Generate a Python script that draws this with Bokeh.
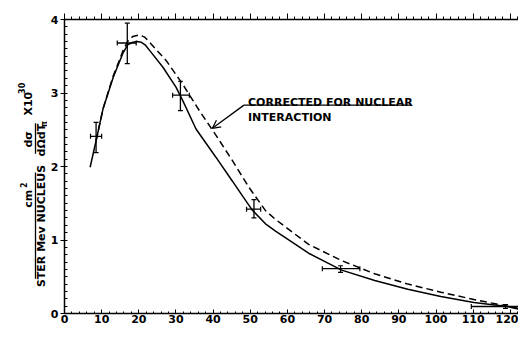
from math import pi
from bokeh.plotting import figure
from bokeh.models import (Range1d, LinearAxis, SingleIntervalTicker, Whisker, TeeHead,
                          ColumnDataSource, Label, Arrow, OpenHead, CustomJSTickFormatter)
from bokeh.layouts import row
from bokeh.core.properties import value
from bokeh.embed import file_html
from bokeh.resources import INLINE

# ---- data ----
pt_x = [8.5, 16.9, 31.2, 51.0, 74.3, 118.7]
pt_y = [2.41, 3.68, 2.97, 1.42, 0.61, 0.095]
y_lo = [2.19, 3.40, 2.76, 1.30, 0.56, 0.07]
y_hi = [2.60, 3.95, 3.16, 1.55, 0.65, 0.12]
x_lo = [7.0, 14.2, 29.1, 49.0, 69.4, 109.5]
x_hi = [10.0, 19.3, 33.6, 52.8, 79.5, 128.0]

solid_x = [6.9, 8.5, 10.4, 13.1, 15.8, 17.1, 18.4, 19.5, 20.7, 21.8, 22.9, 26.5, 30.0, 31.8,
           35.4, 40.7, 45.2, 47.9, 50.5, 54.1, 56.8, 65.7, 74.6, 83.5, 92.4, 101.3, 110.2,
           119.2, 122.2]
solid_y = [1.99, 2.35, 2.79, 3.21, 3.55, 3.66, 3.69, 3.70, 3.69, 3.65, 3.58, 3.35, 3.08, 2.90,
           2.51, 2.13, 1.80, 1.60, 1.41, 1.22, 1.12, 0.82, 0.59, 0.45, 0.33, 0.23, 0.15,
           0.095, 0.06]

dash_x = [8.5, 10.4, 13.1, 15.8, 17.1, 18.4, 20.2, 21.6, 22.9, 27.4, 31.8, 36.3, 40.7, 45.2,
          49.6, 54.1, 56.8, 65.7, 74.6, 83.5, 92.4, 101.3, 110.2, 119.2, 122.2]
dash_y = [2.35, 2.79, 3.23, 3.58, 3.71, 3.77, 3.79, 3.76, 3.69, 3.44, 3.12, 2.76, 2.43, 2.08,
          1.72, 1.40, 1.28, 0.94, 0.72, 0.54, 0.40, 0.29, 0.19, 0.10, 0.07]

x_ticks_interval = 10
y_ticks_interval = 1
note_lines = ["CORRECTED FOR NUCLEAR", "INTERACTION"]

FONT = value("DejaVu Sans")

# ---- y label figure (page pixel coordinates) ----
lf = figure(width=47, height=346, x_range=Range1d(0, 47), y_range=Range1d(346, 0),
            output_backend="svg", toolbar_location=None, min_border=0,
            x_axis_location=None, y_axis_location=None)
lf.grid.visible = False
lf.outline_line_color = None

lf.text(x=[27.5, 41, 28, 27.5, 40.5], y=[141, 142, 99, 211, 243],
        text=["dσ", "dΩdT", "X10", "cm", "STER Mev NUCLEUS"],
        angle=pi / 2, text_font=FONT, text_font_size="11px", text_font_style="bold",
        text_align="center", text_baseline="middle", text_color="black")
lf.text(x=[43.5, 21, 22.5], y=[123, 81, 195], text=["π", "30", "2"],
        angle=pi / 2, text_font=FONT, text_font_size="8px", text_font_style="bold",
        text_align="center", text_baseline="middle", text_color="black")
lf.segment(x0=[35.0, 35.0], y0=[122, 180], x1=[35.0, 35.0], y1=[158, 305],
           line_color="black", line_width=1.3)

# ---- main figure ----
p = figure(width=471, height=346, x_range=Range1d(0, 122.2), y_range=Range1d(0, 4),
           output_backend="svg", toolbar_location=None,
           min_border_left=14, min_border_right=0, min_border_top=19, min_border_bottom=33)
p.grid.visible = False
p.outline_line_color = None
p.background_fill_color = "white"

xa = p.xaxis[0]
xa.ticker = SingleIntervalTicker(interval=x_ticks_interval, num_minor_ticks=5)
xa.major_tick_in = 4
xa.major_tick_out = 0
xa.minor_tick_in = 2
xa.minor_tick_out = 0
xa.major_label_standoff = 1
xa.axis_line_width = 1.5
xa.major_label_text_font = "DejaVu Sans"
xa.major_label_text_font_size = "11px"
xa.major_label_text_font_style = "bold"
xa.major_label_text_color = "black"

ya = p.yaxis[0]
ya.ticker = SingleIntervalTicker(interval=y_ticks_interval, num_minor_ticks=10)
ya.major_tick_in = 0
ya.major_tick_out = 4
ya.minor_tick_in = 3
ya.minor_tick_out = 0
ya.major_label_standoff = 2
ya.axis_line_width = 1.5
ya.major_label_text_font = "DejaVu Sans"
ya.major_label_text_font_size = "11px"
ya.major_label_text_font_style = "bold"
ya.major_label_text_color = "black"

top = LinearAxis(ticker=SingleIntervalTicker(interval=x_ticks_interval, num_minor_ticks=5),
                 formatter=CustomJSTickFormatter(code="return ''"),
                 major_label_standoff=0,
                 major_tick_in=0, major_tick_out=6, minor_tick_in=0, minor_tick_out=3,
                 axis_line_width=1.5)
p.add_layout(top, "above")

# curves
p.line(solid_x, solid_y, line_color="black", line_width=1.5)
p.line(dash_x, dash_y, line_color="black", line_width=1.5, line_dash="7 4")

# error bars
src = ColumnDataSource(dict(x=pt_x, y=pt_y, ylo=y_lo, yhi=y_hi, xlo=x_lo, xhi=x_hi))
p.add_layout(Whisker(source=src, base="x", lower="ylo", upper="yhi", dimension="height",
                     line_color="black", line_width=1.3,
                     lower_head=TeeHead(size=5, line_width=1.2),
                     upper_head=TeeHead(size=5, line_width=1.2)))
p.add_layout(Whisker(source=src, base="y", lower="xlo", upper="xhi", dimension="width",
                     line_color="black", line_width=1.3,
                     lower_head=TeeHead(size=5, line_width=1.2),
                     upper_head=TeeHead(size=5, line_width=1.2)))

# annotation
p.text(x=[49.4, 49.4], y=[2.875, 2.671], text=note_lines, text_font=FONT,
       text_font_size="11px", text_font_style="bold", text_baseline="alphabetic",
       text_align="left", text_color="black")
p.line([48.3, 93.3], [2.835, 2.835], line_color="black", line_width=1.3)
p.add_layout(Arrow(end=OpenHead(size=8, line_width=1.3, line_color="black"),
                   x_start=48.3, y_start=2.835, x_end=39.8, y_end=2.52,
                   line_color="black", line_width=1.3))

# x axis label
p.add_layout(Label(x=48.9, y=-0.345, text="T", text_font="DejaVu Sans",
                   text_font_size="11px", text_font_style="bold", text_align="center",
                   text_baseline="middle", text_color="black"))
p.add_layout(Label(x=50.9, y=-0.38, text="π", text_font="DejaVu Sans",
                   text_font_size="8px", text_font_style="bold", text_align="center",
                   text_baseline="middle", text_color="black"))
p.add_layout(Label(x=54.0, y=-0.345, text="Mev", text_font="DejaVu Sans",
                   text_font_size="11px", text_font_style="bold", text_align="left",
                   text_baseline="middle", text_color="black"))

layout = row(lf, p, spacing=0)
open("out.html", "w").write(file_html(layout, INLINE))
